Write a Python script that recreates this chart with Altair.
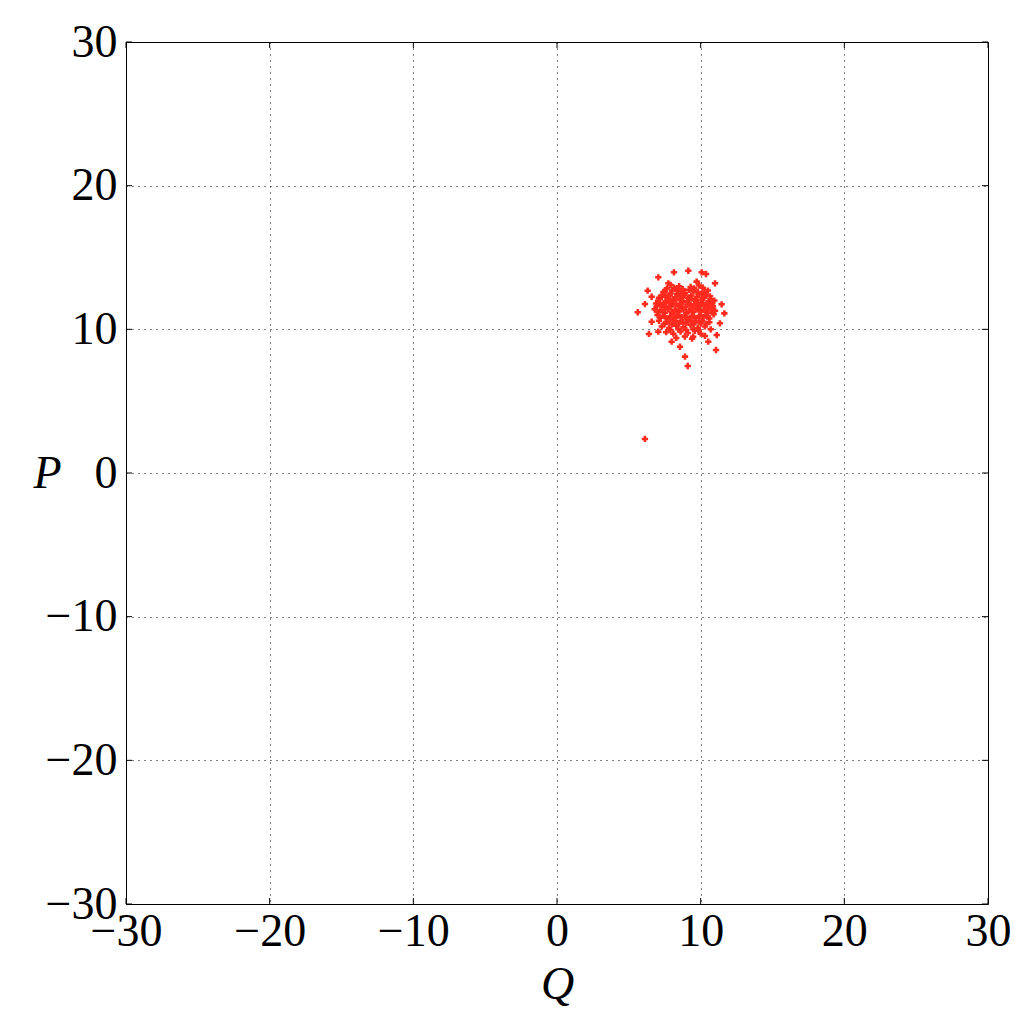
import altair as alt
import pandas as pd

# Scatter points (Q, P)
q_vals = [
    # outliers / edge points
    8.14, 9.14, 10.07, 10.37, 7.05, 11.0, 6.31, 5.62, 6.4, 11.46, 11.65, 11.12, 11.07,
    8.56, 8.91, 9.1, 10.53, 10.3, 6.59, 6.12, 6.59, 7.75, 9.72, 11.34, 9.48, 7.98, 7.05,
    6.12,
    # core rows
    7.9, 8.5, 9.3, 9.9, 8.2,
    7.4, 7.9, 8.4, 8.9, 9.5, 10.1, 10.5,
    7.1, 7.6, 8.1, 8.6, 9.1, 9.6, 10.2, 10.7,
    6.9, 7.3, 7.8, 8.3, 8.8, 9.3, 9.8, 10.3, 10.8,
    6.8, 7.2, 7.7, 8.2, 8.7, 9.2, 9.7, 10.2, 10.7, 11.0,
    7.0, 7.5, 8.0, 8.5, 9.0, 9.5, 10.0, 10.5, 10.9,
    7.1, 7.6, 8.1, 8.6, 9.1, 9.6, 10.1, 10.6,
    7.3, 7.8, 8.3, 8.8, 9.3, 9.8, 10.3, 10.7,
    7.6, 8.1, 8.6, 9.1, 9.6, 10.0,
    8.3, 8.9, 9.4,
    # interleaved core rows
    7.65, 8.15, 8.75, 9.55, 10.15,
    7.35, 7.85, 8.35, 8.85, 9.35, 9.85, 10.35,
    7.05, 7.55, 8.05, 8.55, 9.05, 9.55, 10.05, 10.55, 10.95,
    6.95, 7.45, 7.95, 8.45, 8.95, 9.45, 9.95, 10.45, 10.85,
    7.0, 7.5, 8.0, 8.5, 9.0, 9.5, 10.0, 10.5, 10.85,
    7.2, 7.7, 8.2, 8.7, 9.2, 9.7, 10.2, 10.6,
    7.5, 8.0, 8.5, 9.0, 9.5, 10.0, 10.4,
    7.9, 8.45, 9.0, 9.5, 9.85,
    # extra fill of the dense centre
    7.5, 8.0, 8.6, 9.2, 9.8, 10.3,
    7.3, 7.75, 8.25, 8.75, 9.25, 9.75, 10.25, 10.65,
    7.15, 7.6, 8.1, 8.6, 9.15, 9.65, 10.15, 10.6,
    7.25, 7.75, 8.3, 8.8, 9.3, 9.8, 10.3, 10.7,
    7.4, 7.9, 8.4, 8.9, 9.4, 9.9, 10.4,
    7.75, 8.25, 8.8, 9.35, 9.9,
]
p_vals = [
    13.97, 14.08, 13.97, 13.85, 13.62, 13.2, 12.69, 11.19, 9.68, 11.74, 11.11, 9.6, 8.56,
    8.79, 8.1, 7.45, 9.14, 9.54, 10.53, 11.76, 12.27, 13.2, 13.32, 10.42, 9.49, 9.14, 9.84,
    2.37,
    13.1, 13.0, 12.95, 13.05, 12.8,
    12.6, 12.5, 12.7, 12.55, 12.65, 12.5, 12.7,
    12.2, 12.3, 12.1, 12.3, 12.2, 12.1, 12.3, 12.1,
    11.8, 11.7, 11.9, 11.75, 11.9, 11.7, 11.85, 11.7, 11.8,
    11.4, 11.3, 11.45, 11.35, 11.5, 11.3, 11.45, 11.35, 11.5, 11.3,
    11.0, 10.9, 11.05, 10.95, 11.1, 10.9, 11.0, 10.9, 11.05,
    10.6, 10.5, 10.65, 10.55, 10.7, 10.5, 10.6, 10.5,
    10.2, 10.1, 10.25, 10.15, 10.3, 10.1, 10.2, 10.0,
    9.8, 9.7, 9.85, 9.75, 9.9, 9.7,
    9.4, 9.5, 9.35,
    12.85, 12.9, 12.8, 12.85, 12.9,
    12.4, 12.35, 12.45, 12.4, 12.35, 12.45, 12.4,
    12.0, 11.95, 12.0, 12.05, 11.95, 12.0, 12.05, 11.95, 12.0,
    11.6, 11.55, 11.6, 11.65, 11.55, 11.6, 11.65, 11.55, 11.6,
    11.2, 11.15, 11.2, 11.25, 11.15, 11.2, 11.25, 11.15, 11.2,
    10.8, 10.75, 10.8, 10.85, 10.75, 10.8, 10.85, 10.75,
    10.4, 10.35, 10.4, 10.45, 10.35, 10.4, 10.4,
    9.95, 10.0, 9.95, 10.0, 9.95,
    12.6, 12.7, 12.65, 12.75, 12.6, 12.6,
    12.25, 12.15, 12.2, 12.25, 12.15, 12.25, 12.2, 12.3,
    11.75, 11.85, 11.8, 11.75, 11.8, 11.75, 11.8, 11.85,
    11.35, 11.4, 11.3, 11.4, 11.35, 11.4, 11.3, 11.4,
    10.95, 10.9, 11.0, 10.9, 10.95, 10.9, 10.95,
    10.55, 10.6, 10.5, 10.6, 10.55,
]
tick_values = [-30, -20, -10, 0, 10, 20, 30]

W = 862
H = 862
FONT = "Liberation Serif"

df = pd.DataFrame({"Q": q_vals, "P": p_vals})
tdf = pd.DataFrame({"Q": tick_values, "P": tick_values})

xscale = alt.Scale(domain=[-30, 30], nice=False, zero=False)
yscale = alt.Scale(domain=[-30, 30], nice=False, zero=False)

common_axis = dict(
    values=tick_values,
    grid=True,
    gridColor="black",
    gridDash=[1, 5],
    gridWidth=1,
    gridOpacity=1,
    ticks=False,
    domain=False,
    labelFont=FONT,
    labelFontSize=46,
    labelColor="black",
    labelOverlap=False,
    labelFlush=False,
    labelBound=False,
    titleFont=FONT,
    titleFontSize=46,
    titleFontStyle="italic",
    titleFontWeight="normal",
    titleColor="black",
)

x_enc = alt.X("Q:Q", scale=xscale,
              axis=alt.Axis(title="Q", labelPadding=5, titlePadding=8, **common_axis))
y_enc = alt.Y("P:Q", scale=yscale,
              axis=alt.Axis(title="P", labelPadding=9, titleAngle=0, titleX=-79, titleY=431,
                            titleAlign="center", titleBaseline="middle", **common_axis))

points = alt.Chart(df).mark_point(
    shape="cross", filled=True, size=40, color="#ff2a1e", opacity=1
).encode(x=x_enc, y=y_enc)

TL = 6
left_ticks = alt.Chart(tdf).mark_rule(color="black", strokeWidth=1).encode(
    y=y_enc, x=alt.value(0), x2=alt.value(TL))
right_ticks = alt.Chart(tdf).mark_rule(color="black", strokeWidth=1).encode(
    y=y_enc, x=alt.value(W - TL), x2=alt.value(W))
bottom_ticks = alt.Chart(tdf).mark_rule(color="black", strokeWidth=1).encode(
    x=x_enc, y=alt.value(H - TL), y2=alt.value(H))
top_ticks = alt.Chart(tdf).mark_rule(color="black", strokeWidth=1).encode(
    x=x_enc, y=alt.value(0), y2=alt.value(TL))

chart = alt.layer(points, left_ticks, right_ticks, bottom_ticks, top_ticks).properties(
    width=W,
    height=H,
    autosize=alt.AutoSizeParams(type="none"),
    padding={"left": 118, "top": 34, "right": 38, "bottom": 112},
    background="white",
).configure_view(
    stroke="black", strokeWidth=1
)

chart.save("out.html", embed_options={"renderer": "svg", "actions": False})
